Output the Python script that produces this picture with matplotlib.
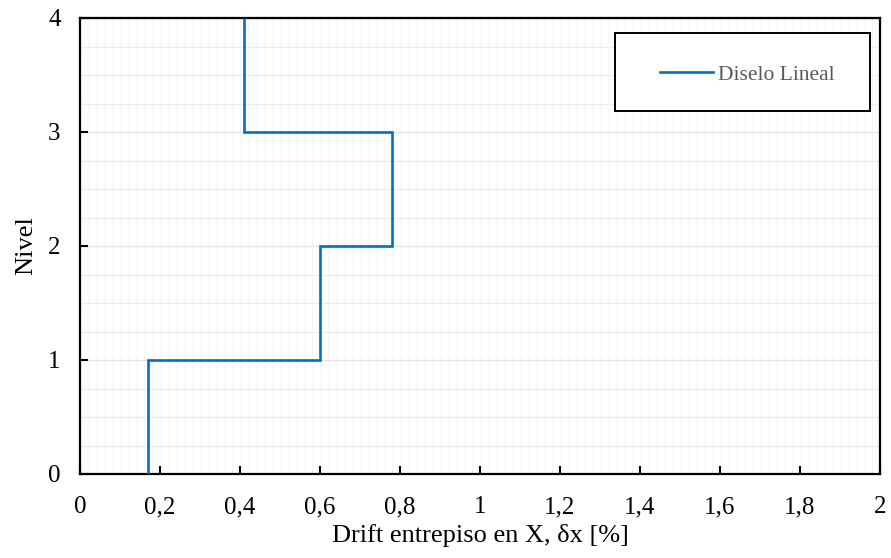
import numpy as np
import matplotlib.pyplot as plt
from matplotlib.patches import Rectangle
from matplotlib.ticker import MultipleLocator, FuncFormatter

# datos: drift por entrepiso
niveles = [0, 1, 2, 3, 4]
drift_x = [0.17, 0.60, 0.78, 0.41]
etiqueta = 'Diselo Lineal'

plt.rcParams['font.family'] = ['Liberation Serif', 'DejaVu Serif']

fig = plt.figure(figsize=(8.91, 5.58), dpi=100)
ax = fig.add_axes([80/891, 1 - 474/558, 800/891, 456/558])

ax.stairs(drift_x, niveles, orientation='horizontal', baseline=None,
          color='#0070C0', lw=1.9, label=etiqueta, zorder=3)

ax.set_xlim(0, 2)
ax.set_ylim(0, 4)
ax.xaxis.set_major_locator(MultipleLocator(0.2))
ax.xaxis.set_minor_locator(MultipleLocator(0.02))
ax.yaxis.set_major_locator(MultipleLocator(1))
ax.yaxis.set_minor_locator(MultipleLocator(0.25))
ax.xaxis.set_major_formatter(FuncFormatter(lambda v, p: f'{v:g}'.replace('.', ',')))

ax.grid(True, which='major', axis='y', color='#e4e4e4', lw=1.0)
ax.grid(True, which='minor', axis='y', color='#ececec', lw=1.0)
ax.grid(True, which='minor', axis='x', color='#f5f5f5', lw=0.8)
ax.grid(True, which='major', axis='x', color='#f5f5f5', lw=0.8)
ax.set_axisbelow(True)

ax.tick_params(which='major', direction='in', length=6, width=1.5, labelsize=18)
ax.tick_params(which='minor', length=0)
ax.tick_params(axis='x', pad=16)
ax.tick_params(axis='y', pad=14)
for s in ax.spines.values():
    s.set_linewidth(1.6)
    s.set_color('black')

ax.set_xlabel('Drift entrepiso en X, δx [%]', fontsize=19, labelpad=4)
ax.set_ylabel('Nivel', fontsize=19, labelpad=8)

# marco de la leyenda
ax.add_patch(Rectangle((0.669, 0.796), 0.3185, 0.171, transform=ax.transAxes,
                       fill=True, facecolor='white', edgecolor='black',
                       lw=1.4, zorder=4))
leg = ax.legend(loc='center', bbox_to_anchor=(0.834, 0.876), fontsize=15.5,
                frameon=False, handlelength=2.45, handletextpad=0.25,
                borderaxespad=0)
leg.set_zorder(5)
for t in leg.get_texts():
    t.set_color('#595959')

plt.savefig('out.png', dpi=100)
